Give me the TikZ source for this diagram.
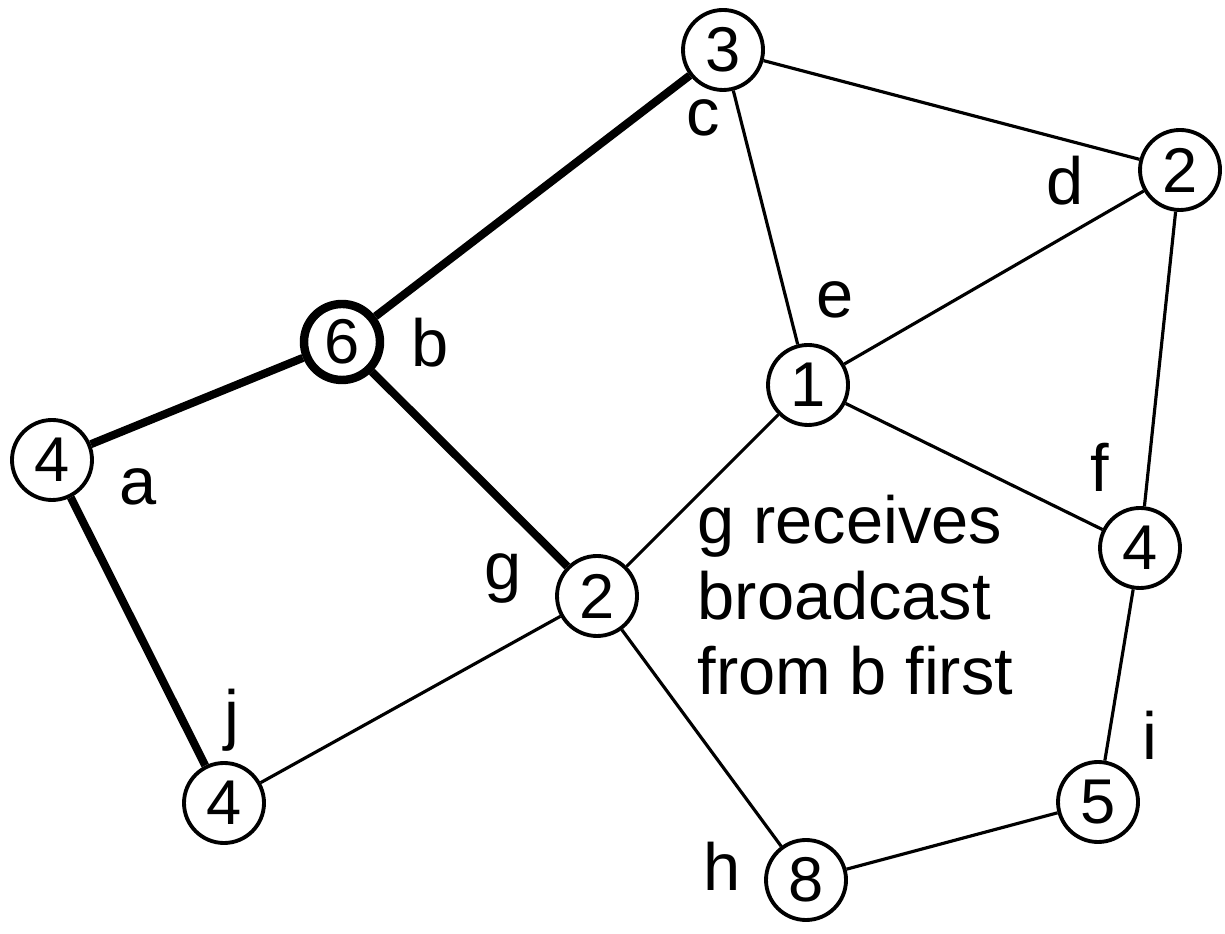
\documentclass[tikz,border=0pt]{standalone}
\usepackage{fontspec}
\setmainfont{Liberation Sans}
\usepackage{tikz}

\begin{document}
\begin{tikzpicture}
[vertex/.style={circle, draw, line width=1.1pt, fill=white, minimum size=8mm, inner sep=0, font=\fontsize{18}{20}\selectfont},
 mark vertex/.style={vertex, line width=2.4pt, minimum size=7.6mm},
 tag/.style={anchor=base, inner sep=0, font=\fontsize{19}{22}\selectfont},
 link/.style={line width=0.9pt},
 path link/.style={line width=2.3pt}]
\useasboundingbox (0, 0) rectangle (12.25, 9.33);
\node (c) [vertex] at (7.23, 8.83) {3};
\node (d) [vertex] at (11.80, 7.63) {2};
\node (b) [mark vertex] at (3.42, 5.91) {6};
\node (e) [vertex] at (8.08, 5.48) {1};
\node (a) [vertex] at (0.52, 4.73) {4};
\node (f) [vertex] at (11.40, 3.85) {4};
\node (g) [vertex] at (5.97, 3.37) {2};
\node (j) [vertex] at (2.24, 1.30) {4};
\node (i) [vertex] at (10.98, 1.31) {5};
\node (h) [vertex] at (8.06, 0.53) {8};
\draw [path link] (c) -- (b);
\draw [path link] (b) -- (a);
\draw [path link] (b) -- (g);
\draw [path link] (a) -- (j);
\draw [link] (c) -- (d);
\draw [link] (c) -- (e);
\draw [link] (d) -- (e);
\draw [link] (d) -- (f);
\draw [link] (e) -- (f);
\draw [link] (e) -- (g);
\draw [link] (g) -- (j);
\draw [link] (g) -- (h);
\draw [link] (h) -- (i);
\draw [link] (i) -- (f);
\node (lc) [tag] at (7.03, 7.97) {c};
\node (ld) [tag] at (10.65, 7.28) {d};
\node (le) [tag] at (8.35, 6.15) {e};
\node (lb) [tag] at (4.30, 5.66) {b};
\node (la) [tag] at (1.38, 4.28) {a};
\node (lf) [tag] at (11.00, 4.41) {f};
\node (lg) [tag] at (5.03, 3.43) {g};
\node (lj) [tag] at (2.32, 1.95) {j};
\node (li) [tag] at (11.50, 1.73) {i};
\node (lh) [tag] at (7.22, 0.43) {h};
\node (note) [anchor=base west, align=left, inner sep=0, font=\fontsize{19}{21.5}\selectfont] at (6.97, 2.38) {g receives\\broadcast\\from b first};
\end{tikzpicture}
\end{document}
